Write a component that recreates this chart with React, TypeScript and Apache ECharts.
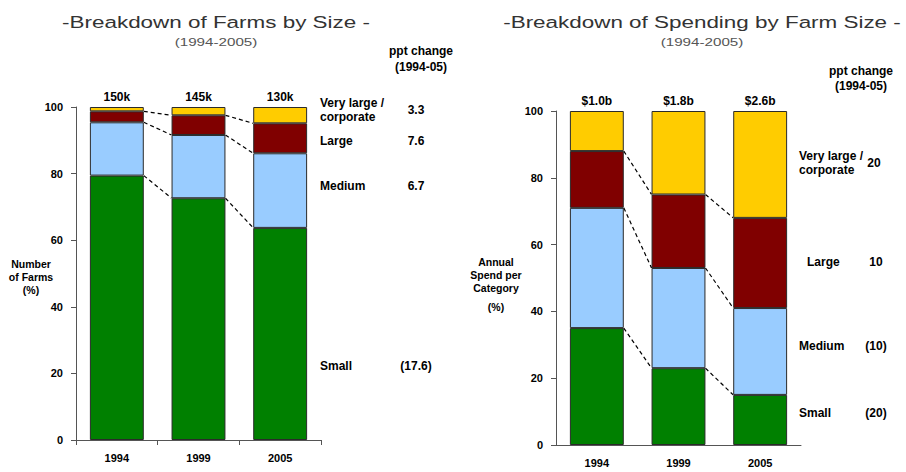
import React, { useEffect, useRef } from "react";
import * as echarts from "echarts";

// Categories
const years = ["1994", "1999", "2005"];

// Breakdown of farms by size (% of farms)
const farmSmall = [79.4, 72.6, 63.7];
const farmMedium = [16.0, 19.0, 22.4];
const farmLarge = [3.3, 5.9, 9.0];
const farmVeryLarge = [1.3, 2.5, 4.9];
const farmTotals = ["150k", "145k", "130k"];
const farmChanges = ["3.3", "7.6", "6.7", "(17.6)"];

// Breakdown of spending by farm size (% of annual spend)
const spendSmall = [35, 23, 15];
const spendMedium = [36, 30, 26];
const spendLarge = [17, 22, 27];
const spendVeryLarge = [12, 25, 32];
const spendTotals = ["$1.0b", "$1.8b", "$2.6b"];
const spendChanges = ["20", "10", "(10)", "(20)"];

const segmentNames = ["Very large /\ncorporate", "Large", "Medium", "Small"];
const segmentColors = ["#008000", "#99CCFF", "#800000", "#FFCC00"];

const BAR_FRAC = 0.66;
const FONT = "'Liberation Sans', Arial, sans-serif";

// cumulative tops of the stacked segments (small, medium, large)
function cumulative(layers: number[][]): number[][] {
  const out: number[][] = [];
  let acc = layers[0].map(() => 0);
  layers.forEach((layer) => {
    acc = acc.map((a, i) => a + layer[i]);
    out.push(acc.slice());
  });
  return out;
}

function connectorData(layers: number[][]) {
  const tops = cumulative(layers).slice(0, 3);
  const data: number[][] = [];
  tops.forEach((t) => {
    for (let i = 0; i < t.length - 1; i++) data.push([i, t[i], t[i + 1]]);
  });
  return data;
}

function barSeries(layers: number[][], totals: string[], idx: number) {
  return layers.map((values, k) => ({
    type: "bar",
    xAxisIndex: idx,
    yAxisIndex: idx,
    stack: "s" + idx,
    barWidth: BAR_FRAC * 100 + "%",
    data: values,
    itemStyle: { color: segmentColors[k], borderColor: "#2a2a2a", borderWidth: 1 },
    label:
      k === layers.length - 1
        ? {
            show: true,
            position: "top",
            distance: 4,
            formatter: (p: any) => totals[p.dataIndex],
            fontFamily: FONT,
            fontWeight: "bold",
            fontSize: 12,
            color: "#000",
          }
        : { show: false },
  }));
}

function connectorSeries(layers: number[][], idx: number) {
  return {
    type: "custom",
    xAxisIndex: idx,
    yAxisIndex: idx,
    data: connectorData(layers),
    encode: { x: 0, y: 1 },
    z: 5,
    renderItem: (_params: any, api: any) => {
      const i = api.value(0);
      const p1 = api.coord([i, api.value(1)]);
      const p2 = api.coord([i + 1, api.value(2)]);
      const band = api.size([1, 0])[0];
      const half = (band * BAR_FRAC) / 2;
      return {
        type: "line",
        shape: { x1: p1[0] + half, y1: p1[1], x2: p2[0] - half, y2: p2[1] },
        style: { stroke: "#000", lineWidth: 1.2, lineDash: [4, 3] },
      };
    },
  };
}

const boldText = (x: number, y: number, text: string, align = "left", size = 12) => ({
  type: "text",
  x,
  y,
  style: {
    text,
    fill: "#000",
    font: `bold ${size}px ${FONT}`,
    align,
    verticalAlign: "middle",
    lineHeight: 14,
  },
});

const stretchedText = (x: number, y: number, text: string, size: number, color: string) => ({
  type: "text",
  x,
  y,
  scaleX: 1.32,
  style: {
    text,
    fill: color,
    font: `${size}px ${FONT}`,
    align: "center",
    verticalAlign: "middle",
  },
});

export default function App() {
  const ref = useRef<HTMLDivElement>(null);

  useEffect(() => {
    if (!ref.current) return;
    const chart = echarts.init(ref.current, undefined, { renderer: "svg" });

    const farmLayers = [farmSmall, farmMedium, farmLarge, farmVeryLarge];
    const spendLayers = [spendSmall, spendMedium, spendLarge, spendVeryLarge];

    const axisLabel = { fontFamily: FONT, fontWeight: "bold", fontSize: 11, color: "#000" };
    const axisLine = { show: true, lineStyle: { color: "#555", width: 1 } };

    const farmLabelY = [110, 141, 186, 366];
    const spendLabelY = [163, 262, 346, 413];

    chart.setOption({
      animation: false,
      grid: [
        { left: 76, top: 107, width: 245, height: 333 },
        { left: 556, top: 111, width: 245, height: 334 },
      ],
      xAxis: [0, 1].map((i) => ({
        type: "category",
        gridIndex: i,
        data: years,
        axisLine,
        axisTick: { show: i === 0, length: 5, lineStyle: { color: "#555" } },
        axisLabel: { ...axisLabel, margin: 12 },
      })),
      yAxis: [0, 1].map((i) => ({
        type: "value",
        gridIndex: i,
        min: 0,
        max: 100,
        interval: 20,
        axisLine,
        axisTick: { show: true, length: 5, lineStyle: { color: "#555" } },
        axisLabel: { ...axisLabel, margin: 13 },
        splitLine: { show: false },
      })),
      series: [
        ...barSeries(farmLayers, farmTotals, 0),
        connectorSeries(farmLayers, 0),
        ...barSeries(spendLayers, spendTotals, 1),
        connectorSeries(spendLayers, 1),
      ],
      graphic: [
        stretchedText(216, 22, "-Breakdown of Farms by Size -", 17, "#333"),
        stretchedText(216, 42, "(1994-2005)", 11.5, "#555"),
        stretchedText(702, 22, "-Breakdown of Spending by Farm Size -", 17, "#333"),
        stretchedText(702, 42, "(1994-2005)", 11.5, "#555"),

        {
          type: "text",
          x: 31,
          y: 257,
          style: {
            text: "Number\nof Farms\n(%)",
            fill: "#000",
            font: `bold 10.5px ${FONT}`,
            align: "center",
            verticalAlign: "top",
            lineHeight: 13,
          },
        },
        {
          type: "text",
          x: 496,
          y: 255,
          style: {
            text: "Annual\nSpend per\nCategory",
            fill: "#000",
            font: `bold 10.5px ${FONT}`,
            align: "center",
            verticalAlign: "top",
            lineHeight: 13,
          },
        },
        boldText(496, 307, "(%)", "center", 10.5),

        boldText(421, 51, "ppt change", "center"),
        boldText(421, 67, "(1994-05)", "center"),
        ...segmentNames.map((n, k) => boldText(320, farmLabelY[k], n)),
        ...farmChanges.map((c, k) => boldText(416, farmLabelY[k], c, "center")),

        boldText(861, 71, "ppt change", "center"),
        boldText(861, 86, "(1994-05)", "center"),
        ...segmentNames.map((n, k) =>
          boldText(k === 1 ? 807 : 799, spendLabelY[k], n)
        ),
        ...spendChanges.map((c, k) =>
          boldText(k === 0 ? 874 : 876, spendLabelY[k], c, "center")
        ),
      ],
    });

    return () => chart.dispose();
  }, []);

  // pinned to the page's top-left corner so the chart covers the whole window
  return (
    <div
      ref={ref}
      style={{ position: "absolute", left: 0, top: 0, width: 906, height: 472 }}
    />
  );
}
